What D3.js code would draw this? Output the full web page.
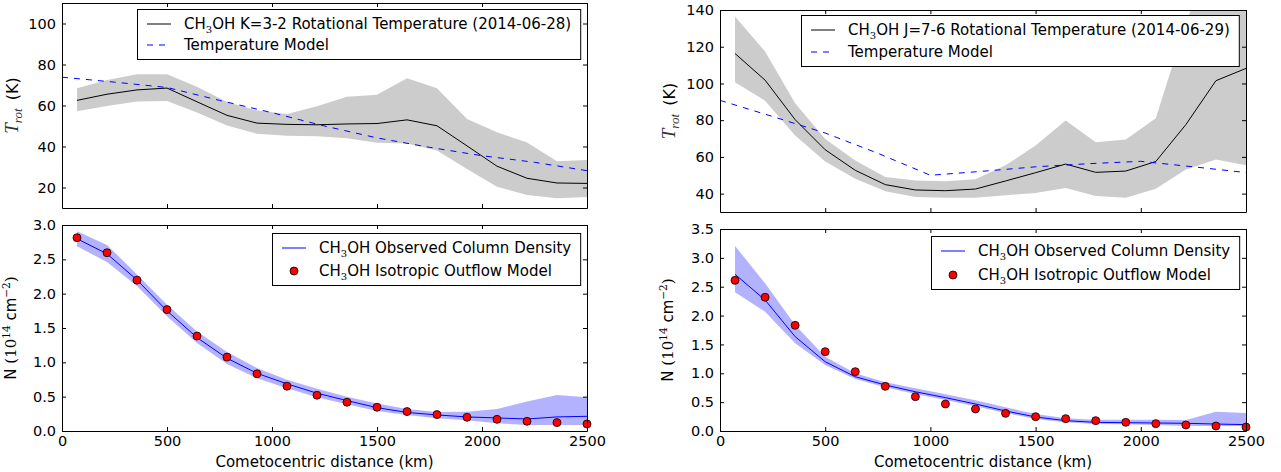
<!DOCTYPE html>
<html>
<head>
<meta charset="utf-8">
<title>CH3OH rotational temperature and column density</title>
<script src="https://d3js.org/d3.v7.min.js"></script>
<style>
    body { margin: 0; background: #fff; }
    svg text { font-family: "DejaVu Sans", sans-serif; fill: #000; }
    .tick line, .domain { stroke: #000; stroke-width: 1; }
</style>
</head>
<body>
<svg id="chart" width="1281" height="472"></svg>
<script>
// sampled distances (km)
const distance = [71.4, 214.3, 357.1, 500, 642.9, 785.7, 928.6, 1071.4, 1214.3,
    1357.1, 1500, 1642.9, 1785.7, 1928.6, 2071.4, 2214.3, 2357.1, 2500];
const modelDistance = [0, 250, 500, 750, 1000, 1250, 1500, 1750, 2000, 2250, 2500];

// K=3-2 (2014-06-28) rotational temperature
const tempK32 = [62.5, 65.5, 67.6, 68.5, 61.8, 55.2, 51.4, 50.8, 50.6, 51.0, 51.2,
    53.0, 50.1, 40.3, 30.4, 24.5, 22.2, 22.0];
const tempK32High = [68.4, 72.4, 75.3, 75.2, 69.2, 61.7, 57.6, 55.8, 59.6, 64.3, 65.2,
    73.3, 68.4, 53.4, 46.9, 42.0, 32.8, 33.4];
const tempK32Low = [57.2, 59.8, 62.0, 62.2, 56.6, 50.3, 46.2, 45.2, 45.0, 44.0, 41.8,
    41.5, 38.0, 29.0, 20.4, 16.3, 14.8, 15.4];
const tempModelK32 = [73.8, 71.4, 68.8, 62.5, 56.5, 50.0, 44.2, 39.6, 35.5, 32.3, 28.2];

// J=7-6 (2014-06-29) rotational temperature
const tempJ76 = [116.3, 101.8, 80.3, 63.9, 52.7, 44.9, 42.0, 41.6, 42.5, 46.9, 51.4,
    56.1, 51.6, 52.3, 57.5, 77.6, 101.5, 108.2];
const tempJ76High = [136.4, 117.4, 89.2, 69.8, 58.1, 49.0, 47.2, 46.7, 47.8, 55.4, 66.2,
    79.8, 68.0, 69.5, 81.0, 133.0, 175.0, 180.0];
const tempJ76Low = [100.6, 90.6, 71.6, 57.5, 48.1, 41.3, 38.2, 37.8, 37.8, 39.1, 40.4,
    43.1, 38.7, 37.8, 42.7, 53.2, 58.6, 55.4];
const tempModelJ76 = [90.8, 82.0, 73.0, 62.0, 50.0, 52.2, 54.6, 56.3, 57.6, 54.6, 51.5];

// column densities (1e14 cm^-2)
const densK32 = [2.80, 2.58, 2.20, 1.75, 1.36, 1.06, 0.84, 0.687, 0.55, 0.443, 0.34,
    0.27, 0.234, 0.205, 0.19, 0.175, 0.205, 0.214];
const densK32High = [2.91, 2.71, 2.28, 1.84, 1.45, 1.15, 0.916, 0.745, 0.614, 0.497, 0.40,
    0.32, 0.278, 0.28, 0.32, 0.43, 0.526, 0.49];
const densK32Low = [2.69, 2.46, 2.11, 1.67, 1.28, 0.974, 0.77, 0.623, 0.49, 0.39, 0.29,
    0.234, 0.185, 0.156, 0.112, 0.088, 0.088, 0.088];
const densModelK32 = [2.815, 2.596, 2.197, 1.768, 1.383, 1.076, 0.833, 0.653, 0.521,
    0.419, 0.346, 0.283, 0.239, 0.20, 0.17, 0.141, 0.122, 0.102];

const densJ76 = [2.715, 2.27, 1.635, 1.20, 0.94, 0.797, 0.68, 0.578, 0.468, 0.347, 0.243,
    0.179, 0.15, 0.144, 0.139, 0.133, 0.121, 0.11];
const densJ76High = [3.206, 2.56, 1.837, 1.288, 1.0, 0.843, 0.739, 0.635, 0.531, 0.41,
    0.295, 0.22, 0.196, 0.196, 0.196, 0.19, 0.335, 0.31];
const densJ76Low = [2.403, 2.068, 1.52, 1.144, 0.90, 0.757, 0.641, 0.537, 0.427, 0.312,
    0.208, 0.15, 0.121, 0.116, 0.104, 0.087, 0.087, 0.087];
const densModelJ76 = [2.61, 2.317, 1.831, 1.375, 1.028, 0.774, 0.595, 0.468, 0.381,
    0.306, 0.248, 0.214, 0.179, 0.15, 0.127, 0.104, 0.087, 0.069];

const xTicks = [0, 500, 1000, 1500, 2000, 2500];

const svg = d3.select("#chart");

function panel(cfg) {
    const x = d3.scaleLinear().domain([0, 2500]).range([cfg.left, cfg.right]);
    const y = d3.scaleLinear().domain(cfg.yDomain).range([cfg.bottom, cfg.top]);
    const g = svg.append("g");

    g.append("clipPath").attr("id", cfg.id)
        .append("rect")
        .attr("x", cfg.left).attr("y", cfg.top)
        .attr("width", cfg.right - cfg.left).attr("height", cfg.bottom - cfg.top);

    const plot = g.append("g").attr("clip-path", `url(#${cfg.id})`);
    const idx = d3.range(distance.length);

    // error band
    plot.append("path")
        .attr("d", d3.area()
            .x(i => x(distance[i]))
            .y0(i => y(cfg.low[i]))
            .y1(i => y(cfg.high[i]))(idx))
        .attr("fill", cfg.bandColor)
        .attr("fill-opacity", cfg.bandOpacity)
        .attr("stroke", "none");

    if (cfg.kind === "temp") {
        plot.append("path")
            .attr("d", d3.line().x(i => x(distance[i])).y(i => y(cfg.obs[i]))(idx))
            .attr("fill", "none").attr("stroke", "#000").attr("stroke-width", 1);
        plot.append("path")
            .attr("d", d3.line().x(i => x(modelDistance[i])).y(i => y(cfg.model[i]))(d3.range(modelDistance.length)))
            .attr("fill", "none").attr("stroke", "#0000ff").attr("stroke-width", 1)
            .attr("stroke-dasharray", "6,6");
    } else {
        plot.append("path")
            .attr("d", d3.line().x(i => x(distance[i])).y(i => y(cfg.obs[i]))(idx))
            .attr("fill", "none").attr("stroke", "#0000ff").attr("stroke-width", 1);
        g.selectAll(null).data(idx).enter().append("circle")
            .attr("cx", i => x(distance[i]))
            .attr("cy", i => y(cfg.model[i]))
            .attr("r", 4)
            .attr("fill", "#ff0000")
            .attr("stroke", "#000").attr("stroke-width", 0.8);
    }

    // axes, ticks pointing inward on all four sides
    const bottomAxis = d3.axisBottom(x).tickValues(xTicks).tickSize(-4).tickSizeOuter(0)
        .tickPadding(5).tickFormat(d3.format("d"));
    if (!cfg.xLabels) bottomAxis.tickFormat("");
    g.append("g").attr("transform", `translate(0,${cfg.bottom})`).call(bottomAxis);
    g.append("g").attr("transform", `translate(0,${cfg.top})`)
        .call(d3.axisTop(x).tickValues(xTicks).tickSize(-4).tickSizeOuter(0).tickFormat(""));
    g.append("g").attr("transform", `translate(${cfg.left},0)`)
        .call(d3.axisLeft(y).tickValues(cfg.yTicks).tickSize(-4).tickSizeOuter(0).tickPadding(6)
            .tickFormat(cfg.yFormat));
    g.append("g").attr("transform", `translate(${cfg.right},0)`)
        .call(d3.axisRight(y).tickValues(cfg.yTicks).tickSize(-4).tickSizeOuter(0).tickFormat(""));
    g.selectAll(".tick text")
        .style("font-size", "14.5px")
        .style("font-family", "DejaVu Sans, sans-serif");

    // y label
    const yl = g.append("text")
        .attr("transform", `translate(${cfg.left - cfg.yLabelOffset},${(cfg.top + cfg.bottom) / 2}) rotate(-90)`)
        .attr("text-anchor", "middle");
    cfg.yLabel(yl);

    if (cfg.xLabels) {
        g.append("text")
            .attr("x", (cfg.left + cfg.right) / 2).attr("y", 467)
            .attr("text-anchor", "middle").attr("font-size", 15)
            .text("Cometocentric distance (km)");
    }

    legend(cfg);
}

function ch3oh(t, rest) {
    t.append("tspan").text("CH");
    t.append("tspan").attr("font-size", 10).attr("font-family", "DejaVu Serif, serif").attr("dy", 4).text("3");
    t.append("tspan").attr("dy", -4).text("OH " + rest);
}

function legend(cfg) {
    const lg = svg.append("g");
    const box = lg.append("rect")
        .attr("fill", "#fff").attr("stroke", "#000").attr("stroke-width", 1);
    const textX = 47;
    let maxW = 0;
    cfg.legendItems.forEach((item, k) => {
        const cy = 15 + k * cfg.legendGap;
        if (item.mark === "line") {
            lg.append("line").attr("x1", 10).attr("x2", 34).attr("y1", cy).attr("y2", cy)
                .attr("stroke", item.color).attr("stroke-width", 1);
        } else if (item.mark === "dash") {
            lg.append("line").attr("x1", 10).attr("x2", 34).attr("y1", cy).attr("y2", cy)
                .attr("stroke", item.color).attr("stroke-width", 1).attr("stroke-dasharray", "6,6");
        } else {
            lg.append("circle").attr("cx", 22).attr("cy", cy).attr("r", 4)
                .attr("fill", "#ff0000").attr("stroke", "#000").attr("stroke-width", 0.8);
        }
        const t = lg.append("text").attr("x", textX).attr("y", cy + 5).attr("font-size", 15);
        item.label(t);
        maxW = Math.max(maxW, t.node().getComputedTextLength());
    });
    const w = textX + maxW + 9;
    const h = 15 + (cfg.legendItems.length - 1) * cfg.legendGap + 14;
    box.attr("x", 0.5).attr("y", 0.5).attr("width", w).attr("height", h);
    lg.attr("transform", `translate(${Math.round(cfg.right - 7 - w)},${cfg.top + cfg.legendTop})`);
}

function tempLabel(t) {
    t.append("tspan").attr("font-family", "Liberation Serif, serif").attr("font-style", "italic")
        .attr("font-size", 19).attr("fill", "#333").text("T");
    t.append("tspan").attr("font-family", "Liberation Serif, serif").attr("font-style", "italic")
        .attr("font-size", 13).attr("fill", "#333").attr("dy", 4).text("rot");
    t.append("tspan").attr("font-size", 16).attr("dy", -4).text("\u2009 (K)");
}

function densLabel(t) {
    t.append("tspan").attr("font-size", 15).text("N ");
    t.append("tspan").attr("font-family", "DejaVu Serif, serif").attr("font-size", 15).text("(10");
    t.append("tspan").attr("font-family", "DejaVu Serif, serif").attr("font-size", 10.5).attr("dy", -6).text("14");
    t.append("tspan").attr("font-size", 15).attr("dy", 6).text(" cm");
    t.append("tspan").attr("font-family", "DejaVu Serif, serif").attr("font-size", 10.5).attr("dy", -6).text("\u22122");
    t.append("tspan").attr("font-family", "DejaVu Serif, serif").attr("font-size", 15).attr("dy", 6).text(")");
}

panel({
    id: "clipTL", kind: "temp", left: 62, right: 587, top: 3, bottom: 208,
    yDomain: [10, 110], yTicks: [20, 40, 60, 80, 100], yFormat: d3.format("d"),
    obs: tempK32, high: tempK32High, low: tempK32Low, model: tempModelK32,
    bandColor: "#cccccc", bandOpacity: 1, xLabels: false,
    yLabel: tempLabel, yLabelOffset: 44, legendTop: 6, legendGap: 21,
    legendItems: [
        { mark: "line", color: "#000", label: t => ch3oh(t, "K=3-2 Rotational Temperature (2014-06-28)") },
        { mark: "dash", color: "#0000ff", label: t => t.text("Temperature Model") }
    ]
});

panel({
    id: "clipTR", kind: "temp", left: 720, right: 1246, top: 10, bottom: 212,
    yDomain: [30, 140], yTicks: [40, 60, 80, 100, 120, 140], yFormat: d3.format("d"),
    obs: tempJ76, high: tempJ76High, low: tempJ76Low, model: tempModelJ76,
    bandColor: "#cccccc", bandOpacity: 1, xLabels: false,
    yLabel: tempLabel, yLabelOffset: 45, legendTop: 5, legendGap: 22,
    legendItems: [
        { mark: "line", color: "#000", label: t => ch3oh(t, "J=7-6 Rotational Temperature (2014-06-29)") },
        { mark: "dash", color: "#0000ff", label: t => t.text("Temperature Model") }
    ]
});

panel({
    id: "clipBL", kind: "dens", left: 62, right: 587, top: 225, bottom: 431,
    yDomain: [0, 3], yTicks: [0, 0.5, 1, 1.5, 2, 2.5, 3], yFormat: d3.format(".1f"),
    obs: densK32, high: densK32High, low: densK32Low, model: densModelK32,
    bandColor: "#0000ff", bandOpacity: 0.3, xLabels: true,
    yLabel: densLabel, yLabelOffset: 46, legendTop: 8, legendGap: 23,
    legendItems: [
        { mark: "line", color: "#0000ff", label: t => ch3oh(t, "Observed Column Density") },
        { mark: "dot", label: t => ch3oh(t, "Isotropic Outflow Model") }
    ]
});

panel({
    id: "clipBR", kind: "dens", left: 720, right: 1246, top: 229, bottom: 431,
    yDomain: [0, 3.5], yTicks: [0, 0.5, 1, 1.5, 2, 2.5, 3, 3.5], yFormat: d3.format(".1f"),
    obs: densJ76, high: densJ76High, low: densJ76Low, model: densModelJ76,
    bandColor: "#0000ff", bandOpacity: 0.3, xLabels: true,
    yLabel: densLabel, yLabelOffset: 47, legendTop: 7, legendGap: 24,
    legendItems: [
        { mark: "line", color: "#0000ff", label: t => ch3oh(t, "Observed Column Density") },
        { mark: "dot", label: t => ch3oh(t, "Isotropic Outflow Model") }
    ]
});
</script>
</body>
</html>
